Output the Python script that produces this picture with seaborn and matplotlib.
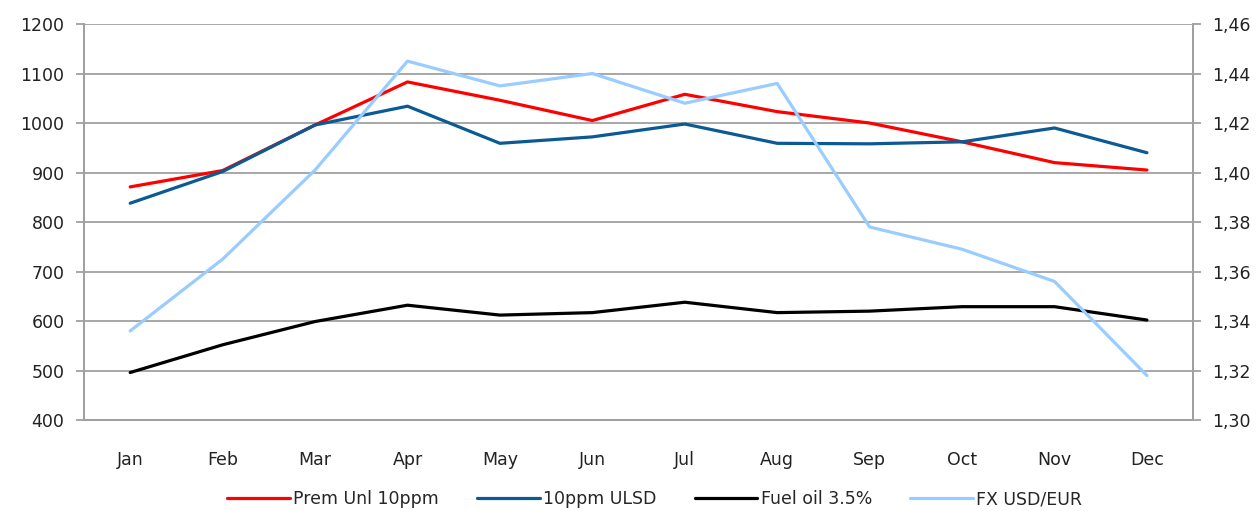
import numpy as np
import pandas as pd
import seaborn as sns
import matplotlib.pyplot as plt
from matplotlib.ticker import FixedLocator, FuncFormatter

# Dados
meses = ["Jan", "Feb", "Mar", "Apr", "May", "Jun", "Jul", "Aug", "Sep", "Oct", "Nov", "Dec"]
prem_unl = [871, 904, 996, 1083, 1046, 1005, 1058, 1023, 1000, 962, 920, 905]
ulsd = [838, 902, 996, 1034, 959, 972, 998, 959, 958, 962, 990, 940]
fuel_oil = [496, 552, 599, 632, 612, 617, 638, 617, 620, 629, 629, 602]
fx_usd_eur = [1.336, 1.365, 1.401, 1.445, 1.435, 1.440, 1.428, 1.436, 1.378, 1.369, 1.356, 1.318]

df = pd.DataFrame({
    "mes": meses,
    "Prem Unl 10ppm": prem_unl,
    "10ppm ULSD": ulsd,
    "Fuel oil 3.5%": fuel_oil,
    "FX USD/EUR": fx_usd_eur,
})

cores = {
    "Prem Unl 10ppm": "#ff0000",
    "10ppm ULSD": "#0b5a94",
    "Fuel oil 3.5%": "#000000",
    "FX USD/EUR": "#99ccff",
}

sns.set_theme(style="white")
plt.rcParams["font.family"] = ["DejaVu Sans"]
cinza = "#a0a0a0"
tam = 12.5

fig = plt.figure(figsize=(12.59, 5.11), dpi=100)
ax = fig.add_axes([0.0667, 0.178, 0.881, 0.775])
ax2 = ax.twinx()

for serie in ["Prem Unl 10ppm", "10ppm ULSD", "Fuel oil 3.5%"]:
    sns.lineplot(data=df, x="mes", y=serie, ax=ax, color=cores[serie],
                 linewidth=2.3, label=serie, legend=False)
sns.lineplot(data=df, x="mes", y="FX USD/EUR", ax=ax2, color=cores["FX USD/EUR"],
             linewidth=2.3, label="FX USD/EUR", legend=False)

# Eixos
ax.set_xlim(-0.5, 11.5)
ax.set_ylim(400, 1200)
ax.set_yticks(np.arange(400, 1201, 100))
ax2.set_ylim(1.30, 1.46)
ax2.set_yticks(np.arange(1.30, 1.4601, 0.02))
ax2.yaxis.set_major_formatter(FuncFormatter(lambda v, p: f"{v:.2f}".replace(".", ",")))

ax.grid(axis="y", color=cinza, linewidth=1.3)
ax.set_axisbelow(True)
ax.set_xlabel("")
ax.set_ylabel("")
ax2.set_ylabel("")

for a in (ax, ax2):
    a.spines["top"].set_visible(False)
    for lado in ["left", "right", "bottom"]:
        a.spines[lado].set_color(cinza)
        a.spines[lado].set_linewidth(1.3)

ax.xaxis.set_minor_locator(FixedLocator(np.arange(-0.5, 12, 1)))
ax.tick_params(axis="x", which="major", length=0, pad=22, labelsize=tam, colors="#222222")
ax.tick_params(axis="x", which="minor", length=6, width=1.3, color=cinza, direction="out")
ax.tick_params(axis="y", length=6, width=1.3, color=cinza, direction="out", left=True,
               pad=8, labelsize=tam, labelcolor="#222222")
ax2.tick_params(axis="y", length=6, width=1.3, color=cinza, direction="out", right=True,
                pad=8, labelsize=tam, labelcolor="#222222")

# Legenda
h1, l1 = ax.get_legend_handles_labels()
h2, l2 = ax2.get_legend_handles_labels()
fig.legend(h1 + h2, l1 + l2, loc="lower center", ncol=4, frameon=False,
           bbox_to_anchor=(0.52, -0.025), fontsize=tam, handlelength=3.6,
           handletextpad=0.2, columnspacing=2.2)

plt.savefig("out.png", dpi=100)
